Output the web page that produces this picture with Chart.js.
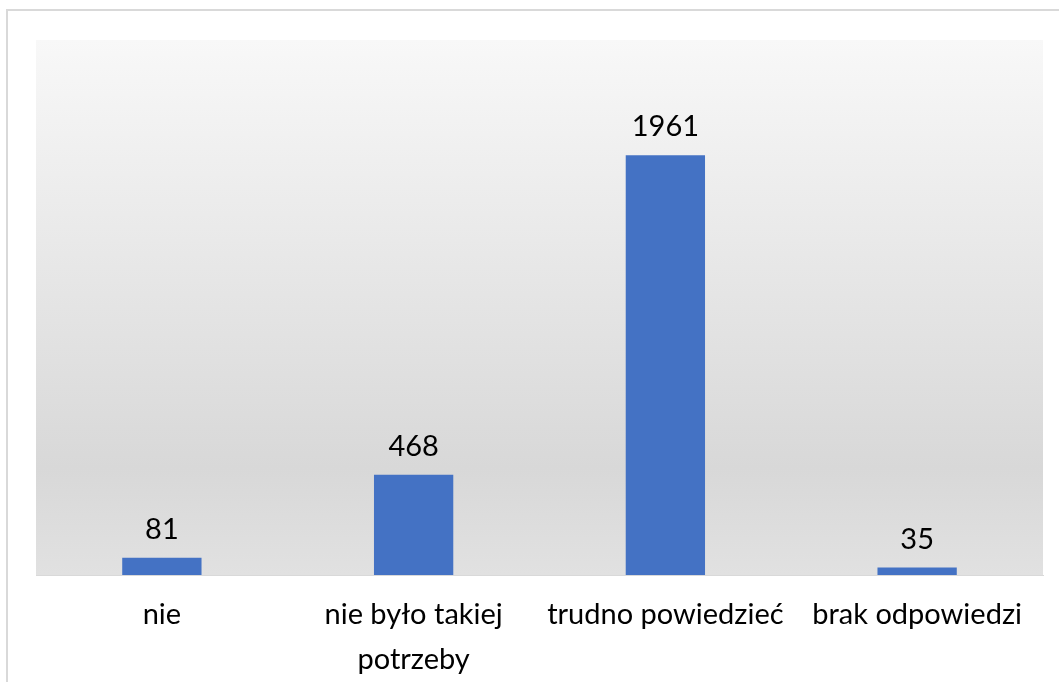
<!DOCTYPE html>
<html>
<head>
<meta charset="utf-8">
<script src="https://cdn.jsdelivr.net/npm/chart.js@4/dist/chart.umd.min.js"></script>
<style>
  html, body { margin: 0; padding: 0; background: #ffffff; }
  #frame { position: absolute; left: 6px; top: 9px; width: 1200px; height: 800px; border: 2px solid #d9d9d9; box-sizing: border-box; }
  #wrap { position: absolute; left: 0; top: 0; width: 1059px; height: 682px; }
</style>
</head>
<body>
<div id="frame"></div>
<div id="wrap"><canvas id="c" width="1059" height="682"></canvas></div>
<script>
const categories = [["nie"], ["nie było takiej", "potrzeby"], ["trudno powiedzieć"], ["brak odpowiedzi"]];
const values = [81, 468, 1961, 35];
const yMax = 2500;

const FONT = "Lato, 'Open Sans', sans-serif";

const bgPlugin = {
  id: 'plotBg',
  beforeDraw(chart) {
    const { ctx, chartArea: a } = chart;
    const g = ctx.createLinearGradient(0, a.top, 0, a.bottom);
    g.addColorStop(0, '#f8f8f8');
    g.addColorStop(0.8, '#d8d8d8');
    g.addColorStop(1, '#e1e1e1');
    ctx.save();
    ctx.fillStyle = g;
    ctx.fillRect(a.left, a.top, a.right - a.left, a.bottom - a.top);
    ctx.restore();
  }
};

const labelPlugin = {
  id: 'valueLabels',
  afterDatasetsDraw(chart) {
    const { ctx } = chart;
    const meta = chart.getDatasetMeta(0);
    ctx.save();
    ctx.font = "29px " + FONT;
    ctx.fillStyle = '#000000';
    ctx.textAlign = 'center';
    ctx.textBaseline = 'alphabetic';
    meta.data.forEach((el, i) => {
      ctx.fillText(String(chart.data.datasets[0].data[i]), el.x, el.y - 19);
    });
    ctx.restore();
  }
};

new Chart(document.getElementById('c'), {
  type: 'bar',
  data: {
    labels: categories,
    datasets: [{
      data: values,
      backgroundColor: '#4472c4',
      borderWidth: 0,
      categoryPercentage: 1,
      barPercentage: 0.315
    }]
  },
  options: {
    responsive: false,
    animation: false,
    devicePixelRatio: 1,
    layout: { padding: { left: 36, right: 16, top: 40, bottom: 0 } },
    plugins: { legend: { display: false }, tooltip: { enabled: false }, title: { display: false } },
    scales: {
      x: {
        grid: { display: false, drawTicks: false },
        border: { display: true, color: '#d9d9d9', width: 1 },
        ticks: {
          color: '#000000',
          font: { family: FONT, size: 29, lineHeight: 1.55 },
          padding: 17,
          maxRotation: 0,
          autoSkip: false
        },
        afterFit(scale) { scale.height = 107; }
      },
      y: {
        display: false,
        min: 0,
        max: yMax
      }
    }
  },
  plugins: [bgPlugin, labelPlugin]
});
</script>
</body>
</html>
